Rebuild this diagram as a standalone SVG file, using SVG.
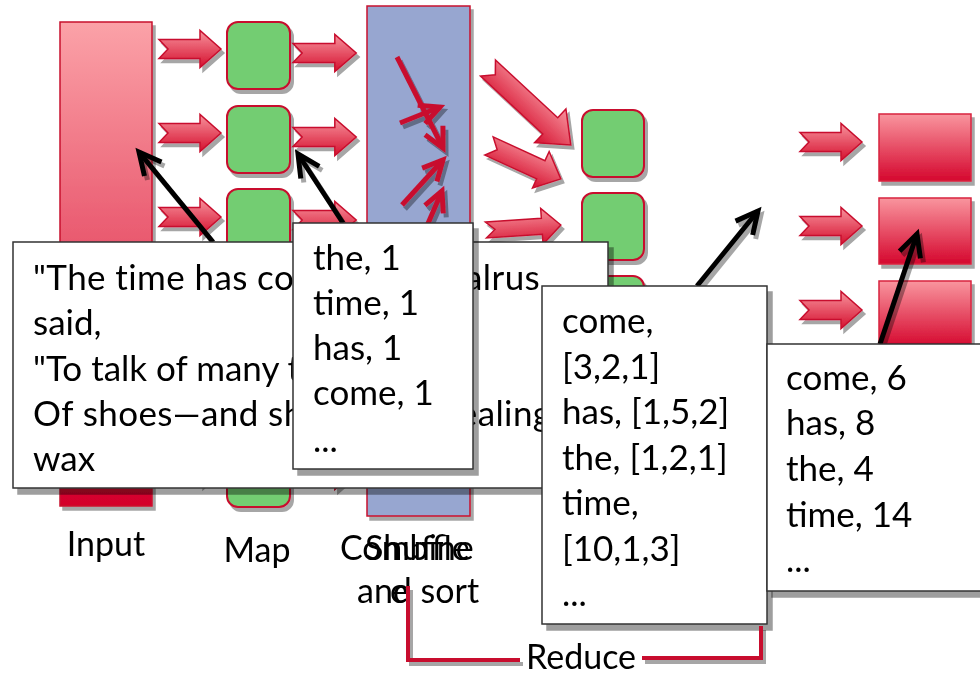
<svg xmlns="http://www.w3.org/2000/svg" xmlns:xlink="http://www.w3.org/1999/xlink" width="980" height="673" viewBox="0 0 980 673">
  <defs>
    <linearGradient id="gRed" x1="0" y1="0" x2="0" y2="1">
      <stop offset="0" stop-color="#fba2a8"/>
      <stop offset="1" stop-color="#d4022b"/>
    </linearGradient>
    <linearGradient id="gOut" x1="0" y1="0" x2="0" y2="1">
      <stop offset="0" stop-color="#f9959e"/>
      <stop offset="1" stop-color="#d5072e"/>
    </linearGradient>
    <linearGradient id="gArrow" x1="0" y1="0" x2="0" y2="1">
      <stop offset="0" stop-color="#f7929c"/>
      <stop offset="1" stop-color="#d5102f"/>
    </linearGradient>
    <filter id="sh" x="-20%" y="-20%" width="150%" height="150%">
      <feDropShadow dx="3" dy="4" stdDeviation="0.6" flood-color="#000" flood-opacity="0.35"/>
    </filter>
    <filter id="shBox" x="-5%" y="-5%" width="115%" height="115%">
      <feDropShadow dx="5" dy="6" stdDeviation="0" flood-color="#000" flood-opacity="0.38"/>
    </filter>
    <!-- block arrow, tail at origin, pointing right -->
    <path id="barrow" d="M0,-9.5 H41 V-18.5 L62,0 L41,18.5 V9.5 H0 L9,0 Z"/>
    <marker id="headBlack" markerUnits="userSpaceOnUse" markerWidth="40" markerHeight="40" viewBox="-30 -20 40 40" refX="0" refY="0" orient="auto">
      <path d="M-22,-11 L0,0 L-22,11" fill="none" stroke="#000" stroke-width="5"/>
    </marker>
    <marker id="headRed" markerUnits="userSpaceOnUse" markerWidth="40" markerHeight="40" viewBox="-30 -20 40 40" refX="0" refY="0" orient="auto">
      <path d="M-20,-10 L0,0 L-20,10" fill="none" stroke="#c8102e" stroke-width="5"/>
    </marker>
    <style>
      .arr { fill:url(#gArrow); stroke:#c8102e; stroke-width:1.5; stroke-linejoin:miter; }
      .green { fill:#73cd72; stroke:#c8102e; stroke-width:2; }
      .out { fill:url(#gOut); stroke:#d8243f; stroke-width:1.5; }
      .shuf { stroke:#c8102e; stroke-width:5; fill:none; marker-end:url(#headRed); }
      .ptr { stroke:#000; stroke-width:5; fill:none; marker-end:url(#headBlack); }
      .bx { fill:#fff; stroke:#333; stroke-width:1.5; }
      .tx { font-family:Lato, "Liberation Sans", sans-serif; font-size:35px; fill:#000; }
      .wide { letter-spacing:0.4px; }
      .lbl { font-family:Lato, "Liberation Sans", sans-serif; font-size:34px; fill:#000; }
    </style>
  </defs>

  <rect width="980" height="673" fill="#fff"/>

  <!-- input split -->
  <g id="input" filter="url(#sh)">
    <rect x="60" y="22" width="92" height="484" fill="url(#gRed)" stroke="#c8102e" stroke-width="1.5"/>
  </g>

  <!-- map workers -->
  <g id="map" filter="url(#sh)">
    <rect class="green" x="227" y="22" width="63" height="67" rx="11"/>
    <rect class="green" x="227" y="106" width="63" height="67" rx="11"/>
    <rect class="green" x="227" y="189" width="63" height="67" rx="11"/>
    <rect class="green" x="227" y="273" width="63" height="67" rx="11"/>
    <rect class="green" x="227" y="356" width="63" height="67" rx="11"/>
    <rect class="green" x="227" y="440" width="63" height="67" rx="11"/>
  </g>

  <!-- shuffle stage -->
  <g id="shuffle">
    <rect x="367" y="6" width="103" height="510" fill="#97a6d0" stroke="#c8102e" stroke-width="1.5" filter="url(#sh)"/>
    <g filter="url(#sh)">
      <line class="shuf" x1="397" y1="57" x2="443" y2="148"/>
      <line class="shuf" x1="400" y1="123" x2="440" y2="107"/>
      <line class="shuf" x1="402" y1="205" x2="443" y2="160"/>
      <line class="shuf" x1="420" y1="242" x2="442" y2="191"/>
    </g>
  </g>

  <!-- reduce workers -->
  <g id="reduce" filter="url(#sh)">
    <rect class="green" x="582" y="110" width="62" height="67" rx="11"/>
    <rect class="green" x="582" y="193" width="62" height="67" rx="11"/>
    <rect class="green" x="582" y="276" width="62" height="67" rx="11"/>
  </g>

  <!-- output partitions -->
  <g id="output" filter="url(#sh)">
    <rect class="out" x="879" y="114" width="92" height="67"/>
    <rect class="out" x="879" y="198" width="92" height="66"/>
    <rect class="out" x="879" y="281" width="92" height="66"/>
  </g>

  <!-- block arrows between stages -->
  <g id="connectors" filter="url(#sh)">
    <use class="arr" xlink:href="#barrow" transform="translate(159,49)"/>
    <use class="arr" xlink:href="#barrow" transform="translate(159,133)"/>
    <use class="arr" xlink:href="#barrow" transform="translate(159,217)"/>
    <use class="arr" xlink:href="#barrow" transform="translate(159,300)"/>
    <use class="arr" xlink:href="#barrow" transform="translate(159,384)"/>
    <use class="arr" xlink:href="#barrow" transform="translate(159,467)"/>

    <use class="arr" xlink:href="#barrow" transform="translate(293,53) scale(1.02,1)"/>
    <use class="arr" xlink:href="#barrow" transform="translate(293,137) scale(1.02,1)"/>
    <use class="arr" xlink:href="#barrow" transform="translate(293,220) scale(1.02,1)"/>
    <use class="arr" xlink:href="#barrow" transform="translate(293,304) scale(1.02,1)"/>
    <use class="arr" xlink:href="#barrow" transform="translate(293,387) scale(1.02,1)"/>
    <use class="arr" xlink:href="#barrow" transform="translate(293,471) scale(1.02,1)"/>

    <path class="arr" d="M0,-11 H85 V-23 L113,0 L85,23 V11 H0 L10,0 Z" transform="translate(488,68) rotate(42.9)"/>
    <path class="arr" d="M0,-10 H57 V-20 L79,0 L57,20 V10 H0 L9,0 Z" transform="translate(489,146) rotate(24.6)"/>
    <path class="arr" d="M0,-8 H56 V-18 L75,0 L56,18 V8 H0 L9,0 Z" transform="translate(486,230) rotate(-3.8)"/>

    <use class="arr" xlink:href="#barrow" transform="translate(800,142)"/>
    <use class="arr" xlink:href="#barrow" transform="translate(800,226)"/>
    <use class="arr" xlink:href="#barrow" transform="translate(800,310)"/>
  </g>

  <!-- callout pointers -->
  <g id="pointers" filter="url(#sh)">
    <line class="ptr" x1="213" y1="242" x2="139" y2="152"/>
    <line class="ptr" x1="343" y1="223" x2="298" y2="154"/>
    <line class="ptr" x1="697" y1="286" x2="758" y2="211"/>
    <line class="ptr" x1="880" y1="344" x2="917" y2="234"/>
  </g>

  <!-- callout: input text -->
  <g id="note-input">
    <rect class="bx" x="13" y="242" width="595" height="246" filter="url(#shBox)"/>
    <text class="tx wide" x="33" y="290">"The time has come," the Walrus</text>
    <text class="tx" x="33" y="335">said,</text>
    <text class="tx" x="33" y="381">"To talk of many things:</text>
    <text class="tx wide" x="33" y="426">Of shoes—and ships—and sealing</text>
    <text class="tx" x="33" y="471">wax</text>
  </g>

  <!-- callout: map output -->
  <g id="note-map">
    <rect class="bx" x="293" y="223" width="180" height="246" filter="url(#shBox)"/>
    <text class="tx" x="313" y="270">the, 1</text>
    <text class="tx" x="313" y="315">time, 1</text>
    <text class="tx" x="313" y="360">has, 1</text>
    <text class="tx" x="313" y="405">come, 1</text>
    <text class="tx" x="313" y="452">...</text>
  </g>

  <!-- callout: grouped values -->
  <g id="note-shuffle">
    <rect class="bx" x="542" y="286" width="225" height="338" filter="url(#shBox)"/>
    <text class="tx" x="562" y="333">come,</text>
    <text class="tx" x="562" y="379">[3,2,1]</text>
    <text class="tx" x="562" y="424">has, [1,5,2]</text>
    <text class="tx" x="562" y="470">the, [1,2,1]</text>
    <text class="tx" x="562" y="515">time,</text>
    <text class="tx" x="562" y="561">[10,1,3]</text>
    <text class="tx" x="562" y="606">...</text>
  </g>

  <!-- callout: reduced counts -->
  <g id="note-reduce">
    <rect class="bx" x="767" y="344" width="225" height="247" filter="url(#shBox)"/>
    <text class="tx" x="786" y="390">come, 6</text>
    <text class="tx" x="786" y="435">has, 8</text>
    <text class="tx" x="786" y="481">the, 4</text>
    <text class="tx" x="786" y="527">time, 14</text>
    <text class="tx" x="786" y="572">...</text>
  </g>

  <!-- stage labels -->
  <g id="labels">
    <text class="lbl" x="106" y="556" text-anchor="middle" font-size="27">Input</text>
    <text class="lbl" x="257" y="562" text-anchor="middle" font-size="37">Map</text>
    <text class="lbl" x="340" y="560">Combine</text>
    <text class="lbl" x="365" y="560">Shuffle</text>
    <text class="lbl" x="357" y="603">and sort</text>
    <text class="lbl" x="390" y="603">e</text>
  </g>

  <!-- reduce bracket -->
  <g id="reduce-bracket">
    <path d="M408,586 V660 H520 M642,658 H761 V626" fill="none" stroke="#c8102e" stroke-width="4" filter="url(#sh)"/>
    <text class="lbl" x="581" y="669" text-anchor="middle" font-size="37">Reduce</text>
  </g>
</svg>
